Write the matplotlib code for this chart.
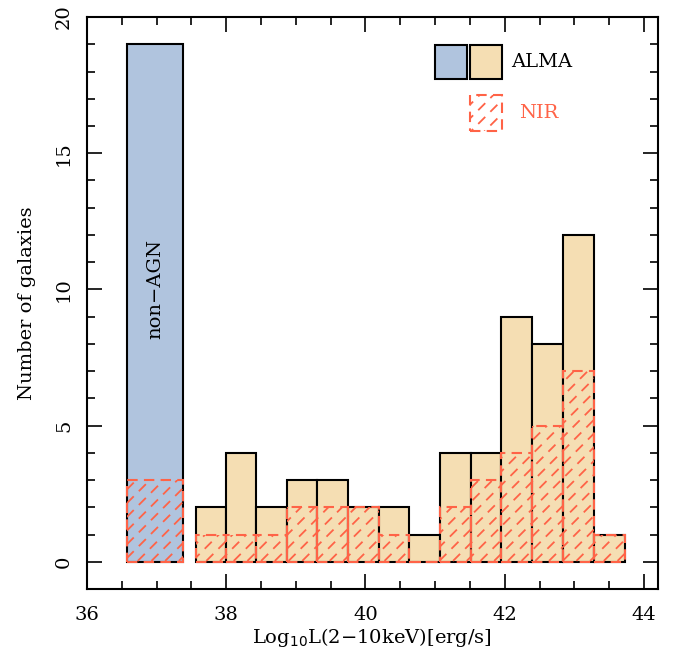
import numpy as np
import matplotlib
matplotlib.use("Agg")
import matplotlib.pyplot as plt
from matplotlib.patches import Rectangle
from matplotlib.collections import LineCollection
from matplotlib.ticker import MultipleLocator

plt.rcParams['font.family'] = ['DejaVu Serif']

# Non-AGN bin
nonagn_edges = [36.58, 37.38]
nonagn_alma = [19]
nonagn_nir = [3]

# AGN bins (log L_X)
agn_edges = [37.56, 38.00, 38.43, 38.87, 39.31, 39.75, 40.19, 40.63,
             41.07, 41.51, 41.95, 42.39, 42.83, 43.28, 43.72]
agn_alma = [2, 4, 2, 3, 3, 2, 2, 1, 4, 4, 9, 8, 12, 1]
agn_nir = [1, 1, 1, 2, 2, 2, 1, 0, 2, 3, 4, 5, 7, 1]

blue = '#b0c4de'
tan = '#f5deb3'
nir_col = '#ff6347'

fig = plt.figure(figsize=(6.84, 6.57), dpi=100)
ax = fig.add_axes([0.127, 0.1035, 0.835, 0.8705])

def edges_to_bars(edges):
    e = np.asarray(edges)
    return e[:-1], np.diff(e)

def dashed_hatch(patch, spacing=0.024):
    # diagonal dashed hatch lines (axes-fraction coords) clipped to a patch
    cs = np.arange(-1.0, 1.0, spacing)
    segs = [[(-0.1, -0.1 + c), (1.1, 1.1 + c)] for c in cs]
    lc = LineCollection(segs, colors=nir_col, linewidths=1.3,
                        linestyles=[(0, (5.5, 4.0))], transform=ax.transAxes, zorder=3)
    ax.add_collection(lc)
    lc.set_clip_path(patch)

nl, nw = edges_to_bars(nonagn_edges)
al, aw = edges_to_bars(agn_edges)

ax.bar(nl, nonagn_alma, width=nw, align='edge', color=blue, edgecolor='black', linewidth=1.5, zorder=2)
ax.bar(al, agn_alma, width=aw, align='edge', color=tan, edgecolor='black', linewidth=1.5, zorder=2)

for lefts, widths, vals in [(nl, nw, nonagn_nir), (al, aw, agn_nir)]:
    bars = ax.bar(lefts, vals, width=widths, align='edge', fill=False,
                  edgecolor=nir_col, linewidth=1.5, linestyle=(0, (5, 3)), zorder=4)
    for p in bars.patches:
        dashed_hatch(p)

ax.text(np.mean(nonagn_edges), 10, 'non\u2212AGN', rotation=90, ha='center', va='center', fontsize=14)

ax.set_xlim(36, 44.2)
ax.set_ylim(-1, 20)
ax.xaxis.set_major_locator(MultipleLocator(2))
ax.xaxis.set_minor_locator(MultipleLocator(0.5))
ax.yaxis.set_major_locator(MultipleLocator(5))
ax.yaxis.set_minor_locator(MultipleLocator(1))
ax.tick_params(which='both', direction='in', top=True, right=True, labelsize=14, width=1.2)
ax.tick_params(which='major', length=11)
ax.tick_params(which='minor', length=6)
ax.tick_params(axis='x', pad=12)
ax.tick_params(axis='y', pad=10)
for lbl in ax.get_yticklabels():
    lbl.set_rotation(90)
    lbl.set_va('center')
for s in ax.spines.values():
    s.set_linewidth(1.5)

ax.set_xlabel('Log$_{10}$L(2\u221210keV)[erg/s]', fontsize=14, labelpad=2)
ax.set_ylabel('Number of galaxies', fontsize=14, labelpad=14)

# legend
ax.add_patch(Rectangle((0.609, 0.892), 0.056, 0.060, transform=ax.transAxes,
                       facecolor=blue, edgecolor='black', linewidth=1.5, zorder=5))
ax.add_patch(Rectangle((0.670, 0.892), 0.056, 0.060, transform=ax.transAxes,
                       facecolor=tan, edgecolor='black', linewidth=1.5, zorder=5))
ax.text(0.742, 0.922, 'ALMA', transform=ax.transAxes, fontsize=14, va='center', ha='left')
leg_nir = Rectangle((0.670, 0.801), 0.056, 0.062, transform=ax.transAxes,
                    fill=False, edgecolor=nir_col, linewidth=1.5,
                    linestyle=(0, (5, 3)), zorder=5)
ax.add_patch(leg_nir)
dashed_hatch(leg_nir)
ax.text(0.757, 0.832, 'NIR', transform=ax.transAxes, fontsize=14, va='center', ha='left', color=nir_col)

fig.savefig('out.png', dpi=100)
